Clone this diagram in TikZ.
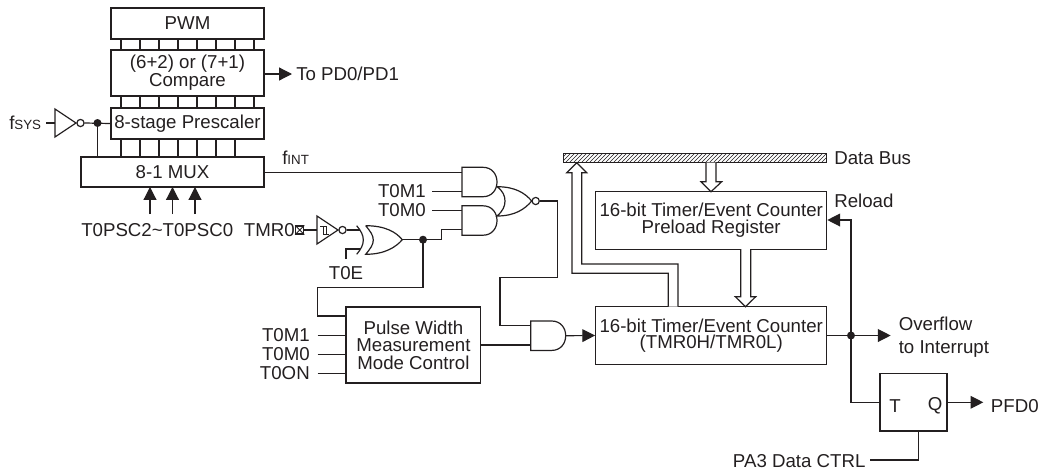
\documentclass[tikz,border=0pt]{standalone}
\usepackage{fontspec}
\setmainfont{Liberation Sans}
\usetikzlibrary{arrows.meta, calc, patterns}
\definecolor{ink}{HTML}{231F20}
\tikzset{
  wire/.style={line width=.9pt, draw=ink},
  flow/.style={wire, -{Triangle[length=9.6pt, width=9.6pt]}},
  blockbox/.style={wire, rectangle, inner sep=0pt, align=center, text=ink},
  label/.style={inner sep=0pt, text=ink},
  bigdot/.style={circle, fill=ink, inner sep=0pt, minimum size=6pt},
  bubble/.style={circle, wire, fill=white, inner sep=0pt, minimum size=5.4pt},
  pics/andgate/.style={code={
    \draw[wire, fill=white] (0,0) -- (21,0) .. controls (30,0) and (35,7) .. (35,14.7)
      .. controls (35,22.4) and (30,29.4) .. (21,29.4) -- (0,29.4) -- cycle;
    \coordinate (-out) at (35,14.7);
  }},
  pics/inverter/.style={code={
    \draw[wire, fill=white] (0,-14) -- (21,0) -- (0,14) -- cycle;
    \node[bubble] (-bub) at (25.5,0) {};
  }}
}
\begin{document}
\begin{tikzpicture}[x=0.75pt, y=-0.75pt, font=\fontsize{14}{12.4}\selectfont]
\useasboundingbox (0,0) rectangle (1039,472);
% ---------- prescaler stack ----------
\node[blockbox, minimum width=114.75pt, minimum height=23.25pt] (pwm) at (187.5,23.5) {PWM};
\node[blockbox, minimum width=114.75pt, minimum height=34.5pt] (compare) at (187.5,73) {(6+2) or (7+1)\\Compare};
\node[blockbox, minimum width=114.75pt, minimum height=23.25pt] (prescaler) at (187.5,123.5) {8-stage Prescaler};
\node[blockbox, minimum width=137.25pt, minimum height=22.5pt] (mux) at (172.5,172) {8-1 MUX};
% bus lines between the blocks
\foreach \i in {0,...,7} {
  \draw[wire] ($(pwm.south west)+(10.5+19*\i,0)$) -- ($(compare.north west)+(10.5+19*\i,0)$);
  \draw[wire] ($(compare.south west)+(10.5+19*\i,0)$) -- ($(prescaler.north west)+(10.5+19*\i,0)$);
}
\foreach \i in {0,...,6}
  \draw[wire] ($(prescaler.south west)+(10.5+19*\i,0)$) -- ($(prescaler.south west)+(10.5+19*\i,18)$);
% clock input
\node[label, anchor=west] (fsys) at (9,123) {f{\fontsize{10}{10}\selectfont SYS}};
\pic (invsys) at (55,123) {inverter};
\draw[wire] (fsys.east)+(5,0) -- (55,123);
\draw[wire] (invsys-bub.east) -- (prescaler.west);
\node[bigdot] (sysdot) at (97.5,123) {};
\draw[wire] (sysdot.center) -- (sysdot.center |- mux.north);
% compare output
\node[label, anchor=west] (topd) at (296,74) {To PD0/PD1};
\draw[flow] (compare.east |- topd) -- (292,74);
% prescaler select
\node[label, anchor=west] (tpsc) at (81,230.5) {T0PSC2\textasciitilde T0PSC0};
\foreach \x in {150,172.5,195}
  \draw[flow] (\x,214) -- (\x,187);
% ---------- timer input gating ----------
\node[label, anchor=west] (fint) at (282,158) {f{\fontsize{10}{10}\selectfont INT}};
\pic (andone) at (462,167.3) {andgate};
\pic (andtwo) at (462,205.8) {andgate};
\pic (andthree) at (530.7,321) {andgate};
\draw[wire] (mux.east |- 0,172.7) -- (462,172.7);
\node[label, anchor=east] (tmone) at (426,191) {T0M1};
\node[label, anchor=east] (tmzero) at (426,210) {T0M0};
\draw[wire] (432,191.7) -- (462,191.7);
\draw[wire] (432,210.7) -- (462,210.7);
% pin and schmitt inverter
\node[label, anchor=east] (tmr) at (295,230.5) {TMR0};
\node[wire, draw, rectangle, inner sep=0pt, minimum size=6pt] (pin) at (299.7,230) {};
\draw[wire, line width=.7pt] (pin.north west) -- (pin.south east) (pin.north east) -- (pin.south west);
\pic (invtmr) at (317,230) {inverter};
\draw[wire] (pin.east) -- (317,230);
\draw[wire, line width=.7pt] (320,226) -- (326,226) -- (326,234) -- (329,234) (323,226) -- (323,234) -- (329,234);
% xor gate
\draw[wire] (356.7,225.7) .. controls (361,231) and (363.3,235) .. (363.3,240)
  .. controls (363.3,245) and (361,249) .. (356.7,254.3);
\draw[wire, fill=white] (365.7,225.7) .. controls (385,225.7) and (396,232) .. (402.3,239.7)
  .. controls (396,247) and (385,254.3) .. (365.7,254.3)
  .. controls (370,249) and (373.3,245) .. (373.3,240)
  .. controls (373.3,235) and (370,231) .. (365.7,225.7);
\coordinate (xorout) at (402.3,239.7);
\draw[wire] (invtmr-bub.east) -- (360,230);
\node[label] (toe) at (346,273) {T0E};
\draw[wire] (346,259) -- (346,249) -- (360,249);
% nor gate
\draw[wire, fill=white] (497,186.7) .. controls (515,186.7) and (525,193) .. (531.7,201)
  .. controls (525,209) and (515,216) .. (497,216)
  .. controls (503,211) and (505,206) .. (505,201)
  .. controls (505,196) and (503,191) .. (497,186.7);
\node[bubble] (norbub) at (535.7,201) {};
% ---------- pulse width control ----------
\node[blockbox, minimum width=101pt, minimum height=57pt, font=\fontsize{14}{13.1}\selectfont] (pulse) at (413.4,345) {Pulse Width\\Measurement\\Mode Control};
\node[label, anchor=east] (pone) at (310,335.5) {T0M1};
\node[label, anchor=east] (pzero) at (310,354.5) {T0M0};
\node[label, anchor=east] (pon) at (310,373.5) {T0ON};
\draw[wire] (317.7,335.7) -- (pulse.west |- 0,335.7);
\draw[wire] (317.7,354.7) -- (pulse.west |- 0,354.7);
\draw[wire] (317.7,373.5) -- (pulse.west |- 0,373.5);
% xor output and its branch
\node[bigdot] (xordot) at (423,239.7) {};
\draw[wire] (xorout) -- (441.7,239.7) -- (441.7,229.3) -- (462,229.3);
\draw[wire] (xordot.center) -- (423,287.3) -- (317.7,287.3) -- (317.7,316) -- (pulse.west |- 0,316);
% nor output to last and gate
\draw[wire] (norbub.east) -- (557.6,201) -- (557.6,277.7) -- (500,277.7) -- (500,325.7) -- (530.7,325.7);
\draw[wire] (pulse.east |- 0,345) -- (530.7,345);
% ---------- timer ----------
\node[blockbox, minimum width=173.25pt, minimum height=43.25pt] (preload) at (711.2,220.4) {16-bit Timer/Event Counter\\Preload Register};
\node[blockbox, minimum width=173.25pt, minimum height=43pt] (timer) at (711.2,335.5) {16-bit Timer/Event Counter\\(TMR0H/TMR0L)};
\node[wire, draw, rectangle, inner sep=0pt, pattern=north east lines, pattern color=ink, minimum width=197.5pt, minimum height=7pt] (bus) at (695,158) {};
\node[label, anchor=west] (busname) at (834,158) {Data Bus};
\draw[flow] (andthree-out) -- (timer.west);
% wide arrows
\draw[wire, fill=white] (706,162.7) -- (706,181.7) -- (701,181.7) -- (711,191.7) -- (721.7,181.7) -- (716,181.7) -- (716,162.7);
\draw[wire, fill=white] (740.7,249) -- (740.7,296.7) -- (735.3,296.7) -- (745.5,306.7) -- (755.7,296.7) -- (750.7,296.7) -- (750.7,249);
\draw[wire, fill=white] (668.3,306.7) -- (668.3,273.3) -- (572,273.3) -- (572,172.7) -- (566.7,172.7) -- (576.7,162.7)
  -- (586.7,172.7) -- (581.7,172.7) -- (581.7,264) -- (678,264) -- (678,306.7);
% ---------- outputs ----------
\node[label, anchor=west] (reload) at (834,200.5) {Reload};
\node[label, anchor=west, align=left, font=\fontsize{14}{17}\selectfont] (overflow) at (898.5,337) {Overflow\\to Interrupt};
\node[bigdot] (timerdot) at (851,335.5) {};
\draw[flow] (timer.east) -- (890.7,335.5);
\draw[flow] (timerdot.center) -- (851,220) -- (preload.east |- 0,220);
\node[blockbox, minimum width=50.25pt, minimum height=43pt] (toggle) at (913.5,402.3) {};
\node[label] (tlabel) at (895,406) {T};
\node[label] (qlabel) at (935,406) {Q};
\draw[wire] (timerdot.center) -- (851,402.3) -- (toggle.west);
\node[label, anchor=west] (pfd) at (990.7,406) {PFD0};
\draw[flow] (toggle.east) -- (983.3,402.3);
\node[label, anchor=east] (pactrl) at (865.7,461.5) {PA3 Data CTRL};
\draw[wire] (918.3,431) -- (918.3,460) -- (870,460);
\end{tikzpicture}
\end{document}
